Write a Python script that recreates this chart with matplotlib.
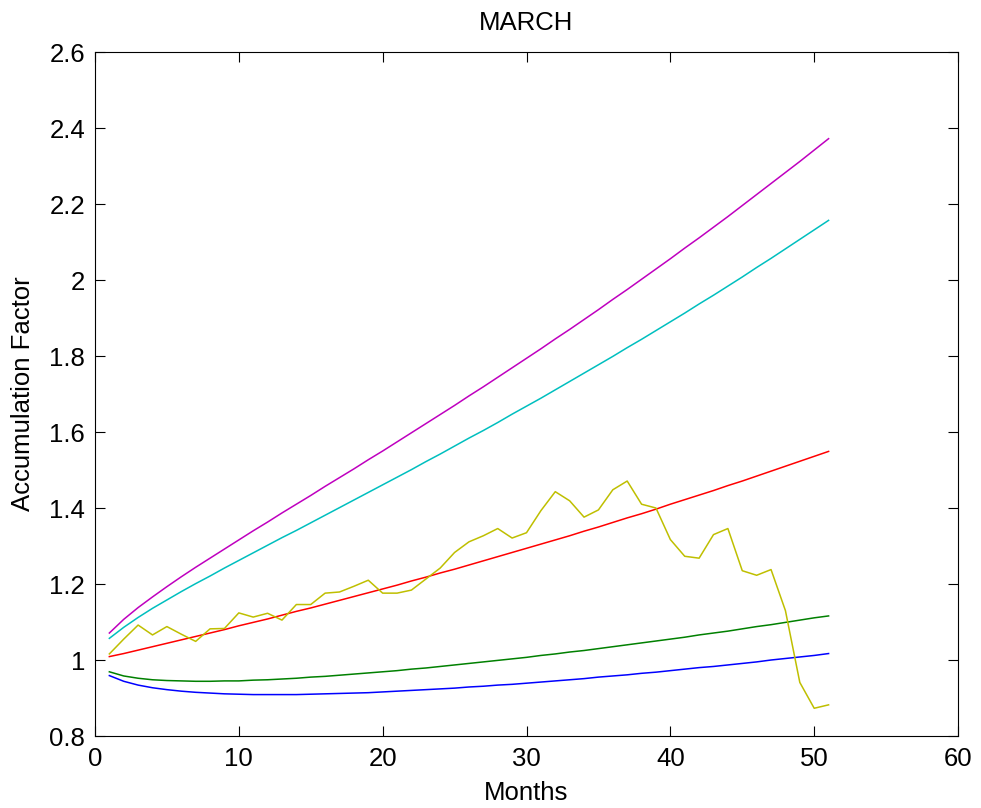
import numpy as np
from matplotlib import pyplot as plt
from matplotlib.ticker import FuncFormatter

months = list(range(1, 52))

lower_outer = [0.959, 0.944, 0.934, 0.927, 0.922, 0.918, 0.915, 0.913, 0.911, 0.910,
               0.909, 0.909, 0.909, 0.909, 0.910, 0.911, 0.912, 0.913, 0.914, 0.916,
               0.918, 0.920, 0.922, 0.924, 0.926, 0.929, 0.931, 0.934, 0.936, 0.939,
               0.942, 0.945, 0.948, 0.951, 0.955, 0.958, 0.961, 0.965, 0.968, 0.972,
               0.976, 0.980, 0.983, 0.987, 0.991, 0.995, 1.000, 1.004, 1.008, 1.012,
               1.017]
lower_inner = [0.969, 0.958, 0.952, 0.948, 0.946, 0.945, 0.944, 0.944, 0.945, 0.945,
               0.947, 0.948, 0.950, 0.952, 0.955, 0.957, 0.960, 0.963, 0.966, 0.969,
               0.972, 0.976, 0.979, 0.983, 0.987, 0.991, 0.995, 0.999, 1.003, 1.007,
               1.012, 1.016, 1.021, 1.025, 1.030, 1.035, 1.040, 1.045, 1.050, 1.055,
               1.060, 1.066, 1.071, 1.076, 1.082, 1.088, 1.093, 1.099, 1.105, 1.111,
               1.116]
middle = [1.009, 1.017, 1.026, 1.035, 1.044, 1.053, 1.062, 1.071, 1.080, 1.090,
          1.099, 1.108, 1.118, 1.128, 1.137, 1.147, 1.157, 1.167, 1.177, 1.187,
          1.197, 1.208, 1.218, 1.229, 1.239, 1.250, 1.261, 1.272, 1.283, 1.294,
          1.305, 1.316, 1.327, 1.339, 1.350, 1.362, 1.374, 1.385, 1.397, 1.410,
          1.422, 1.434, 1.446, 1.459, 1.471, 1.484, 1.497, 1.510, 1.523, 1.536,
          1.549]
upper_inner = [1.057, 1.086, 1.112, 1.136, 1.158, 1.180, 1.201, 1.221, 1.242, 1.262,
               1.282, 1.302, 1.322, 1.341, 1.361, 1.381, 1.401, 1.421, 1.441, 1.461,
               1.481, 1.501, 1.522, 1.542, 1.563, 1.584, 1.604, 1.625, 1.647, 1.668,
               1.689, 1.711, 1.733, 1.755, 1.777, 1.799, 1.822, 1.844, 1.867, 1.890,
               1.913, 1.937, 1.960, 1.984, 2.008, 2.033, 2.057, 2.082, 2.107, 2.132,
               2.157]
upper_outer = [1.071, 1.107, 1.138, 1.166, 1.193, 1.219, 1.244, 1.268, 1.292, 1.316,
               1.340, 1.363, 1.387, 1.410, 1.433, 1.457, 1.480, 1.503, 1.527, 1.550,
               1.574, 1.598, 1.622, 1.646, 1.670, 1.695, 1.719, 1.744, 1.769, 1.794,
               1.819, 1.845, 1.870, 1.896, 1.922, 1.949, 1.975, 2.002, 2.029, 2.056,
               2.084, 2.111, 2.139, 2.167, 2.196, 2.225, 2.254, 2.283, 2.312, 2.342,
               2.372]
actual = [1.016, 1.055, 1.092, 1.066, 1.088, 1.068, 1.049, 1.082, 1.083, 1.124,
          1.113, 1.123, 1.105, 1.146, 1.146, 1.176, 1.179, 1.194, 1.210, 1.176,
          1.176, 1.184, 1.213, 1.242, 1.283, 1.311, 1.327, 1.346, 1.321, 1.335,
          1.393, 1.443, 1.419, 1.376, 1.395, 1.448, 1.471, 1.410, 1.400, 1.317,
          1.273, 1.268, 1.330, 1.346, 1.235, 1.223, 1.238, 1.130, 0.941, 0.873,
          0.882]

plt.rcParams['font.family'] = ['Liberation Sans', 'DejaVu Sans']
fig = plt.figure(figsize=(9.81, 8.08), dpi=100)
ax = fig.add_axes([0.0968, 0.0891, 0.8798, 0.8465])

lw = 1.1
ax.plot(months, lower_outer, color=(0, 0, 1), lw=lw)
ax.plot(months, lower_inner, color=(0, 0.5, 0), lw=lw)
ax.plot(months, middle, color=(1, 0, 0), lw=lw)
ax.plot(months, upper_inner, color=(0, 0.75, 0.75), lw=lw)
ax.plot(months, upper_outer, color=(0.75, 0, 0.75), lw=lw)
ax.plot(months, actual, color=(0.75, 0.75, 0), lw=lw)

fs = 18.5
ax.set_xlim(0, 60)
ax.set_ylim(0.8, 2.6)
ax.set_xticks(np.arange(0, 61, 10))
ax.set_yticks(np.arange(0.8, 2.61, 0.2))
ax.yaxis.set_major_formatter(FuncFormatter(lambda v, p: '%g' % round(v, 1)))
ax.tick_params(direction='in', top=True, right=True, length=7, width=0.8,
               labelsize=fs)
ax.tick_params(axis='x', pad=8)
ax.tick_params(axis='y', pad=7)
for s in ax.spines.values():
    s.set_linewidth(0.8)

ax.set_title('MARCH', fontsize=fs, pad=16)
ax.set_xlabel('Months', fontsize=fs, labelpad=7)
ax.set_ylabel('Accumulation Factor', fontsize=fs, labelpad=10)

plt.savefig('out.png', dpi=100)
